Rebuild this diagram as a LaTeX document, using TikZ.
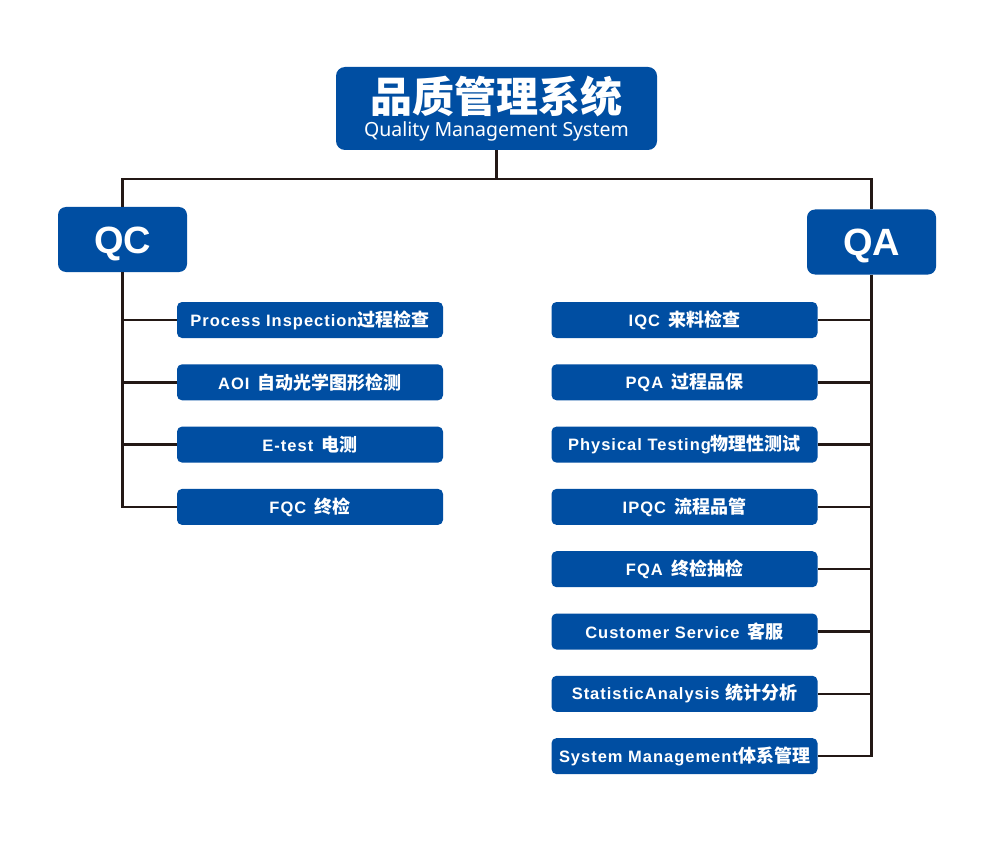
\documentclass[tikz,border=0pt]{standalone}
\usepackage{fontspec}
\usepackage{tikz}
\usetikzlibrary{positioning}
\setmainfont{Liberation Sans}
\newfontfamily\cjk{Noto Sans CJK SC}
\newfontfamily\cjkheavy{Noto Sans CJK SC Black}
\newfontfamily\subfont{Noto Sans}
\newfontfamily\itemfont[LetterSpace=6]{Liberation Sans}
\definecolor{qmsblue}{RGB}{0,78,162}
\definecolor{linkblack}{RGB}{35,24,21}
\newcommand{\zh}[1]{{\cjk\bfseries\fontsize{18}{18}\selectfont #1}}

\begin{document}
\begin{tikzpicture}
              [x=1pt,y=-1pt,node distance=25.9pt,
                every node/.style={rectangle,draw=none,fill=qmsblue,text=white,inner sep=0pt},
                head/.style={rounded corners=9pt,minimum width=321pt,minimum height=83pt,align=center,font=\subfont\fontsize{19.5}{24}\selectfont},
                group/.style={rounded corners=8pt,minimum width=129pt,minimum height=65pt,text height=27pt,text depth=0pt,font=\bfseries\fontsize{38}{38}\selectfont},
                item/.style={rounded corners=5pt,minimum width=266pt,minimum height=36pt,font=\itemfont\bfseries\fontsize{16.5}{18}\selectfont},
                link/.style={draw=linkblack,line width=2.4pt}]
              \fill[white] (0,0) rectangle (1000,850);
              \useasboundingbox (0,0) rectangle (1000,850);
              % top
              \node[head] (qms) at (496.5,108.5) {{\cjkheavy\fontsize{42}{42}\selectfont 品质管理系统}\\Quality Management System};
              \node[group] (qc) at (122.5,239.5) {QC};
              \node[group] (qa) at (871.5,242) {QA};
              % QC side
              \node[item] (c1) at (310,320) {Process Inspection\zh{过程检查}};
              \node[item] (c2) [below=of c1] {AOI\enspace\zh{自动光学图形检测}};
              \node[item] (c3) [below=of c2] {E-test\enspace\zh{电测}};
              \node[item] (c4) [below=of c3] {FQC\enspace\zh{终检}};
              % QA side
              \node[item] (a1) at (684.5,320) {IQC\enspace\zh{来料检查}};
              \node[item] (a2) [below=of a1] {PQA\enspace\zh{过程品保}};
              \node[item] (a3) [below=of a2] {Physical Testing\zh{物理性测试}};
              \node[item] (a4) [below=of a3] {IPQC\enspace\zh{流程品管}};
              \node[item] (a5) [below=of a4] {FQA\enspace\zh{终检抽检}};
              \node[item] (a6) [below=of a5] {Customer Service\enspace\zh{客服}};
              \node[item] (a7) [below=of a6] {StatisticAnalysis \zh{统计分析}};
              \node[item] (a8) [below=of a7] {System Management\zh{体系管理}};
              % links
              \draw[link] (qms.south) -- ++(0,29) coordinate (hub);
              \draw[link] (qc.north) |- (hub) -| (qa.north);
              \draw[link] (qc.south) |- (c4.west);
              \foreach \n in {c1,c2,c3}
              \draw[link] (qc.south |- \n.west) -- (\n.west);
              \draw[link] (qa.south) |- (a8.east);
              \foreach \n in {a1,a2,a3,a4,a5,a6,a7}
              \draw[link] (qa.south |- \n.east) -- (\n.east);
            \end{tikzpicture}
\end{document}
